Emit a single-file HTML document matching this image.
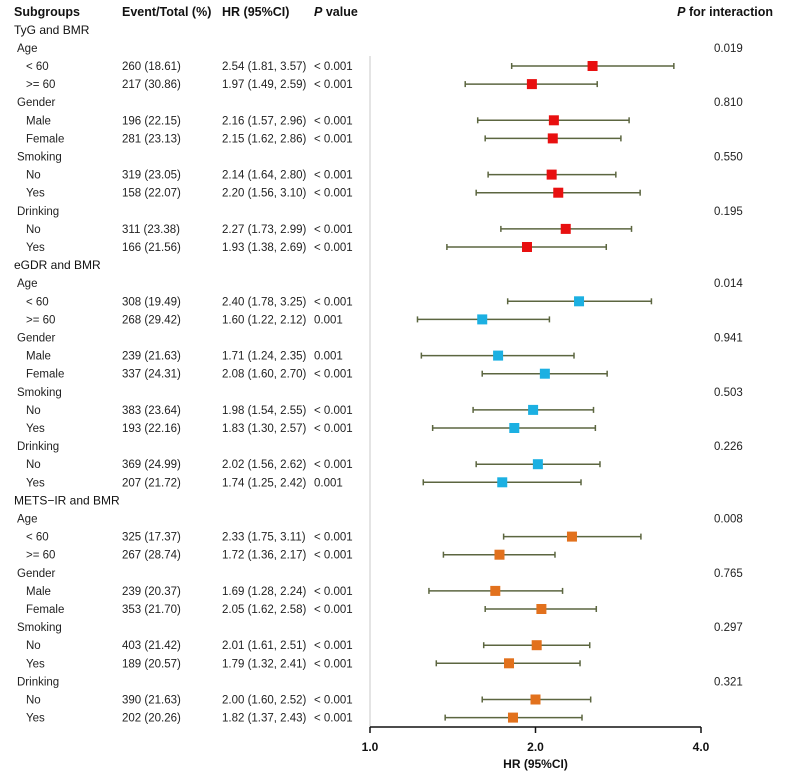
<!DOCTYPE html>
<html><head><meta charset="utf-8">
<style>
body{margin:0;background:#fff;}
svg{display:block;font-family:"Liberation Sans",Arial,sans-serif;}
</style></head>
<body>
<svg id="chart" width="797" height="777" viewBox="0 0 797 777"></svg>
<script>
// data arrays
const sections = ["TyG and BMR", "eGDR and BMR", "METS\u2212IR and BMR"];
const groups = ["Age", "Gender", "Smoking", "Drinking"];
const levels = [["< 60", ">= 60"], ["Male", "Female"], ["No", "Yes"], ["No", "Yes"]];
const events = [
 "260 (18.61)","217 (30.86)","196 (22.15)","281 (23.13)","319 (23.05)","158 (22.07)","311 (23.38)","166 (21.56)",
 "308 (19.49)","268 (29.42)","239 (21.63)","337 (24.31)","383 (23.64)","193 (22.16)","369 (24.99)","207 (21.72)",
 "325 (17.37)","267 (28.74)","239 (20.37)","353 (21.70)","403 (21.42)","189 (20.57)","390 (21.63)","202 (20.26)"];
const hr = [2.54,1.97,2.16,2.15,2.14,2.20,2.27,1.93, 2.40,1.60,1.71,2.08,1.98,1.83,2.02,1.74, 2.33,1.72,1.69,2.05,2.01,1.79,2.00,1.82];
const lo = [1.81,1.49,1.57,1.62,1.64,1.56,1.73,1.38, 1.78,1.22,1.24,1.60,1.54,1.30,1.56,1.25, 1.75,1.36,1.28,1.62,1.61,1.32,1.60,1.37];
const hi = [3.57,2.59,2.96,2.86,2.80,3.10,2.99,2.69, 3.25,2.12,2.35,2.70,2.55,2.57,2.62,2.42, 3.11,2.17,2.24,2.58,2.51,2.41,2.52,2.43];
const pvals = ["< 0.001","< 0.001","< 0.001","< 0.001","< 0.001","< 0.001","< 0.001","< 0.001",
 "< 0.001","0.001","0.001","< 0.001","< 0.001","< 0.001","< 0.001","0.001",
 "< 0.001","< 0.001","< 0.001","< 0.001","< 0.001","< 0.001","< 0.001","< 0.001"];
const pint = ["0.019","0.810","0.550","0.195","0.014","0.941","0.503","0.226","0.008","0.765","0.297","0.321"];
const ticks = [1.0, 2.0, 4.0];
const colors = ["#e81010","#1cb0e2","#e2711d"];

const svg = document.getElementById('chart');
const NS = "http://www.w3.org/2000/svg";
function mk(tag, attrs, txt){const e=document.createElementNS(NS,tag);for(const k in attrs)e.setAttribute(k,attrs[k]);if(txt!==undefined)e.textContent=txt;svg.appendChild(e);return e;}
const x0=370, perDouble=165.5;
function xs(v){return x0+Math.log2(v)*perDouble;}
function ys(row){return 66+(row-3)*18.1;}

let h;
h=mk('text',{x:14,y:16,'font-size':12.5,'font-weight':'bold',fill:'#111'},'Subgroups');

h=mk('text',{x:122,y:16,'font-size':12.5,'font-weight':'bold',fill:'#111'},'Event/Total (%)');

h=mk('text',{x:222,y:16,'font-size':12.5,'font-weight':'bold',fill:'#111'},'HR (95%CI)');

h=mk('text',{x:314,y:16,'font-size':12.5,'font-weight':'bold',fill:'#111'});
h.innerHTML='<tspan font-style="italic">P</tspan> value';

h=mk('text',{x:773,y:16,'font-size':12.5,'font-weight':'bold',fill:'#111','text-anchor':'end'});
h.innerHTML='<tspan font-style="italic">P</tspan> for interaction';


const ref=mk('line',{x1:x0,x2:x0,y1:56,y2:727,stroke:'#dcdcdc','stroke-width':1.5});


let row=1, idx=0, gi=0;
sections.forEach((s,si)=>{
  const st=mk('text',{x:14,y:ys(row)+4,'font-size':12,fill:'#111'},s);
  
  row++;
  groups.forEach((g,g2)=>{
    const gt=mk('text',{x:17,y:ys(row)+4,'font-size':11.5,fill:'#222'},g);
    
    const pt=mk('text',{x:714,y:ys(row)+4,'font-size':11.5,fill:'#222'},pint[gi]);
    
    gi++; row++;
    levels[g2].forEach(l=>{
      const y=ys(row);
      const t1=mk('text',{x:26,y:y+4,'font-size':11.5,fill:'#222'},l);
      
      const t2=mk('text',{x:122,y:y+4,'font-size':11.5,fill:'#222'},events[idx]);
      
      const t3=mk('text',{x:222,y:y+4,'font-size':11.5,fill:'#222'},hr[idx].toFixed(2)+' ('+lo[idx].toFixed(2)+', '+hi[idx].toFixed(2)+')');
      
      const t4=mk('text',{x:314,y:y+4,'font-size':11.5,fill:'#222'},pvals[idx]);
      
      const ln=mk('line',{x1:xs(lo[idx]),x2:xs(hi[idx]),y1:y,y2:y,stroke:'#5c6640','stroke-width':1.5});
      
      [lo[idx],hi[idx]].forEach(v=>{
        const c=mk('line',{x1:xs(v),x2:xs(v),y1:y-3,y2:y+3,stroke:'#5c6640','stroke-width':1.5});
        
      });
      const sq=mk('rect',{x:xs(hr[idx])-5,y:y-5,width:10,height:10,fill:colors[si]});
      
      idx++; row++;
    });
  });
});

const ax=mk('line',{x1:x0,x2:xs(4),y1:727,y2:727,stroke:'#111','stroke-width':1.5});

ticks.forEach(t=>{
  const tk=mk('line',{x1:xs(t),x2:xs(t),y1:727,y2:733,stroke:'#111','stroke-width':1.5});
  
  const tl=mk('text',{x:xs(t),y:751,'font-size':12,'font-weight':'bold','text-anchor':'middle',fill:'#111'},t.toFixed(1));
  
});
const xt=mk('text',{x:xs(2),y:768,'font-size':12,'font-weight':'bold','text-anchor':'middle',fill:'#111'},'HR (95%CI)');

</script>
</body></html>
